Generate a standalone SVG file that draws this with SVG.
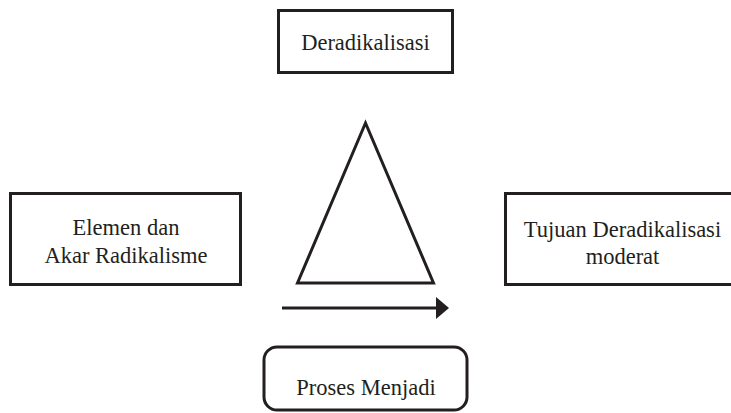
<svg xmlns="http://www.w3.org/2000/svg" width="731" height="413" viewBox="0 0 731 413">
<style>
.box{fill:#fff;stroke:#231f20;stroke-width:3}
.t{font-family:"Liberation Serif","Times New Roman",serif;font-size:22.5px;fill:#231f20;text-anchor:middle}
.ln{fill:none;stroke:#231f20;stroke-width:3}
</style>
<rect width="731" height="413" fill="#fff"/>
<g id="deradikalisasi">
<rect class="box" x="278.5" y="10.5" width="174" height="62"/>
<text class="t" x="365.5" y="50">Deradikalisasi</text>
</g>
<g id="elemen">
<rect class="box" x="10.5" y="193.5" width="230" height="91"/>
<text class="t" x="126" y="235">Elemen dan</text>
<text class="t" x="126" y="263">Akar Radikalisme</text>
</g>
<g id="tujuan">
<rect class="box" x="505.5" y="193.5" width="240" height="91"/>
<text class="t" x="622.5" y="237">Tujuan Deradikalisasi</text>
<text class="t" x="622.5" y="264">moderat</text>
</g>
<g id="proses">
<rect class="box" x="264" y="347" width="203" height="63" rx="13"/>
<text class="t" x="366" y="395">Proses Menjadi</text>
</g>
<g id="segitiga">
<polygon class="ln" points="365.5,123 297.5,283 433.5,283" stroke-linejoin="miter"/>
</g>
<g id="connectors">
<line class="ln" x1="282" y1="308" x2="440" y2="308"/>
<polygon points="436,297 449,308 436,319" fill="#231f20"/>
</g>
</svg>
